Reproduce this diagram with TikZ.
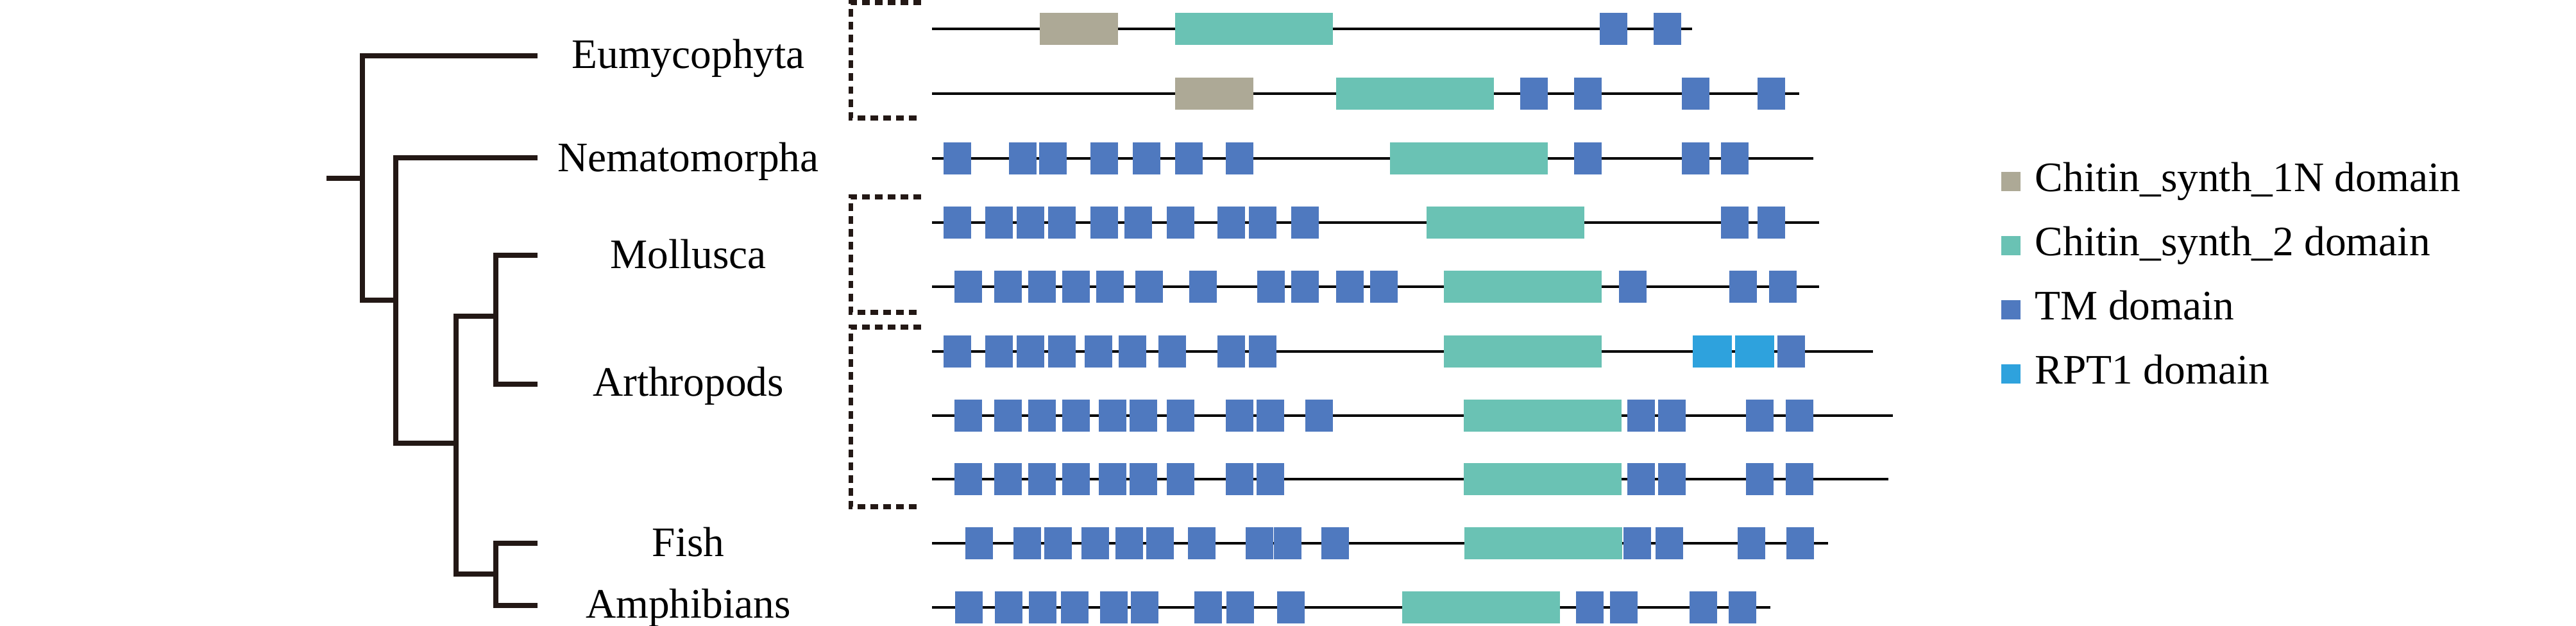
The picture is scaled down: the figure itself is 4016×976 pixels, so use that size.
\documentclass[tikz,border=0pt]{standalone}
\usepackage{fontspec}
\setmainfont{Liberation Serif}
\usepackage{tikz}
\usetikzlibrary{positioning}

\definecolor{treeink}{HTML}{231815}
\definecolor{nterm}{HTML}{ADA996}
\definecolor{synthtwo}{HTML}{6AC2B4}
\definecolor{tmblue}{HTML}{4F79BF}
\definecolor{rptblue}{HTML}{2EA2DD}

\tikzset{
    branch/.style={draw=treeink, line width=2pt},
    taxon/.style={font=\fontsize{18.6}{22}\selectfont, inner sep=0pt, anchor=base},
    bracket/.style={draw=treeink, line width=2pt, dash pattern=on 3.4pt off 2.3pt},
    chain/.style={draw=black, line width=1.1pt},
    legkey/.style={minimum size=0.3cm, inner sep=0pt, outer sep=0pt},
    legtext/.style={font=\fontsize{18.6}{22}\selectfont, inner sep=0pt, anchor=base west}
}

% one protein: y, line end, then left edges of the boxes
\newcommand{\chainline}[2]{\draw[chain] (1453,#1) -- (#2,#1);}
\newcommand{\tmset}[2]{\foreach \x in {#2} \fill[tmblue] (\x,#1-25) rectangle ++(43,50);}
\newcommand{\synthtwo}[2]{\fill[synthtwo] (#2,#1-25) rectangle ++(246,50);}
\newcommand{\ntermbox}[2]{\fill[nterm] (#2,#1-25) rectangle ++(122,50);}
\newcommand{\rptset}[2]{\foreach \x in {#2} \fill[rptblue] (\x,#1-25) rectangle ++(61,50);}

\begin{document}
\begin{tikzpicture}[x=0.01cm, y=-0.01cm]
    \useasboundingbox (0,0) rectangle (4016,976);

    % tree
    \coordinate (stub) at (509,278);
    \coordinate (c0) at (565,278);
    \coordinate (c1) at (617,468);
    \coordinate (c2) at (711,691);
    \coordinate (c3) at (773,493);
    \coordinate (c4) at (773,895);
    \coordinate (teu) at (838,87);
    \coordinate (tne) at (838,246);
    \coordinate (tmo) at (838,398);
    \coordinate (tar) at (838,599);
    \coordinate (tfi) at (838,847);
    \coordinate (tam) at (838,944);

    \draw[branch] (stub) -- (c0);
    \draw[branch] (teu) -| (c0) |- (c1);
    \draw[branch] (tne) -| (c1) |- (c2);
    \draw[branch] (c3) -| (c2) |- (c4);
    \draw[branch] (tmo) -| (c3) |- (tar);
    \draw[branch] (tfi) -| (c4) |- (tam);

    \node[taxon] (eu) at (1073,107) {Eumycophyta};
    \node[taxon] (ne) at (1073,268) {Nematomorpha};
    \node[taxon] (mo) at (1073,418) {Mollusca};
    \node[taxon] (ar) at (1073,617) {Arthropods};
    \node[taxon] (fi) at (1073,867) {Fish};
    \node[taxon] (am) at (1073,963) {Amphibians};

    % brackets
    \draw[bracket] (1436,4) -- (1326,4) -- (1326,184) -- (1436,184);
    \draw[bracket] (1436,307) -- (1326,307) -- (1326,487) -- (1436,487);
    \draw[bracket] (1436,510) -- (1326,510) -- (1326,790) -- (1436,790);

    % row 1
    \chainline{45}{2638}
    \ntermbox{45}{1621} \synthtwo{45}{1832}
    \tmset{45}{2494,2578}
    % row 2
    \chainline{146}{2805}
    \ntermbox{146}{1832} \synthtwo{146}{2083}
    \tmset{146}{2370,2454,2622,2740}
    % row 3
    \chainline{247}{2827}
    \tmset{247}{1471,1573,1620,1700,1766,1832,1911,2454,2622,2683}
    \synthtwo{247}{2167}
    % row 4
    \chainline{347}{2836}
    \tmset{347}{1471,1536,1585,1634,1700,1753,1819,1898,1947,2013,2683,2740}
    \synthtwo{347}{2224}
    % row 5
    \chainline{447}{2836}
    \tmset{447}{1488,1550,1603,1656,1709,1770,1854,1960,2013,2083,2136,2524,2696,2758}
    \synthtwo{447}{2251}
    % row 6
    \chainline{548}{2920}
    \tmset{548}{1471,1536,1585,1634,1691,1744,1806,1898,1947,2771}
    \synthtwo{548}{2251}
    \rptset{548}{2639,2705}
    % row 7
    \chainline{648}{2951}
    \tmset{648}{1488,1550,1603,1656,1713,1761,1819,1911,1959,2035,2537,2585,2722,2784}
    \synthtwo{648}{2282}
    % row 8
    \chainline{747}{2944}
    \tmset{747}{1488,1550,1603,1656,1713,1761,1819,1911,1959,2537,2585,2722,2784}
    \synthtwo{747}{2282}
    % row 9
    \chainline{847}{2850}
    \tmset{847}{1505,1580,1628,1686,1739,1787,1852,1942,1986,2060,2531,2581,2709,2785}
    \synthtwo{847}{2283}
    % row 10
    \chainline{947}{2760}
    \tmset{947}{1489,1551,1604,1654,1715,1763,1862,1912,1991,2457,2510,2634,2695}
    \synthtwo{947}{2186}

    % legend
    \node[legkey, fill=nterm] (k1) at (3135,283) {};
    \node[legkey, fill=synthtwo, below=0.7cm of k1] (k2) {};
    \node[legkey, fill=tmblue, below=0.7cm of k2] (k3) {};
    \node[legkey, fill=rptblue, below=0.7cm of k3] (k4) {};
    \node[legtext] (l1) at ([xshift=0.22cm]k1.south east) {Chitin\_synth\_1N domain};
    \node[legtext] (l2) at ([xshift=0.22cm]k2.south east) {Chitin\_synth\_2 domain};
    \node[legtext] (l3) at ([xshift=0.22cm]k3.south east) {TM domain};
    \node[legtext] (l4) at ([xshift=0.22cm]k4.south east) {RPT1 domain};
\end{tikzpicture}
\end{document}
